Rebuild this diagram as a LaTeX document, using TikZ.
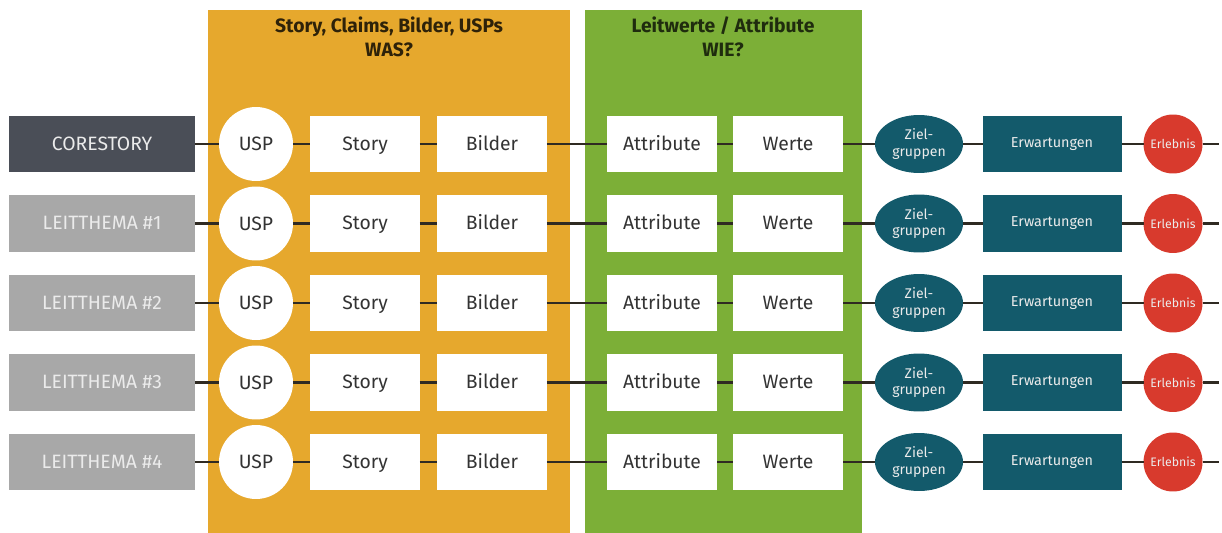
\documentclass[tikz,border=0pt]{standalone}
\usepackage{fontspec}
\setmainfont{Fira Sans}
\usepackage{xcolor}
\usetikzlibrary{shapes.geometric,positioning}
\definecolor{wasorange}{HTML}{E6A82D}
\definecolor{wiegruen}{HTML}{7CAF37}
\definecolor{coregrau}{HTML}{4A4E57}
\definecolor{themagrau}{HTML}{A8A8A8}
\definecolor{petrol}{HTML}{135A6B}
\definecolor{erlebnisrot}{HTML}{D83A2D}
\definecolor{kettenfarbe}{HTML}{2F2A22}
\newcommand{\mf}{\fontsize{11}{13}\selectfont}
\newcommand{\mfs}{\fontsize{8.2}{10}\selectfont}
\newcommand{\mfz}{\fontsize{8}{9.5}\selectfont}
\newcommand{\mfe}{\fontsize{7}{8}\selectfont}
\newcommand{\hf}{\fontsize{11}{13.5}\selectfont\bfseries}

\begin{document}
\begin{tikzpicture}[x=0.02cm, y=-0.02cm, every node/.style={inner sep=0pt, outer sep=0pt, font=\mf},
  thema/.style={rectangle, minimum width=3.72cm, minimum height=1.14cm, text=white!92!black,
    text height=1.6ex, text depth=0.3ex},
  karte/.style={rectangle, fill=white, minimum width=2.2cm, minimum height=1.14cm, text=black!80,
    text height=1.6ex, text depth=0.3ex},
  uspkreis/.style={circle, fill=white, minimum size=1.48cm, text=black!80},
  zielgr/.style={ellipse, fill=petrol, minimum width=1.76cm, minimum height=1.16cm, text=white!92!black, align=center, font=\mfz},
  erwart/.style={rectangle, fill=petrol, minimum width=2.78cm, minimum height=1.14cm, text=white!92!black, font=\mfs},
  erlebnis/.style={circle, fill=erlebnisrot, minimum size=1.18cm, text=white!92!black, font=\mfe},
  kettenlinie/.style={draw=kettenfarbe, line width=1.2pt}]
\useasboundingbox (0,0) rectangle (1222,533);
% ---- panels WAS? / WIE?
\fill[wasorange] (208,10) rectangle (570,533);
\fill[wiegruen] (585,10) rectangle (862,533);
\node[font=\hf, text=black!80!wasorange, align=center] (wasKopf) at (389,37)
  {Story, Claims, Bilder, USPs\\WAS?};
\node[font=\hf, text=black!75!wiegruen, align=center] (wieKopf) at (723,37)
  {Leitwerte / Attribute\\WIE?};
% ---- one chain per row
\foreach \lbl/\farbe [count=\i from 0] in {CORESTORY/coregrau, LEITTHEMA \#1/themagrau,
    LEITTHEMA \#2/themagrau, LEITTHEMA \#3/themagrau, LEITTHEMA \#4/themagrau}{
  \pgfmathsetmacro{\ry}{144+79.5*\i}
  \node[thema, fill=\farbe] (t\i) at (102,\ry) {\lbl};
  \node[uspkreis] (u\i) at (256,\ry) {USP};
  \node[karte] (s\i) at (365,\ry) {Story};
  \node[karte] (b\i) at (492,\ry) {Bilder};
  \node[karte] (a\i) at (662,\ry) {Attribute};
  \node[karte] (w\i) at (788,\ry) {Werte};
  \node[zielgr] (z\i) at (919,\ry) {Ziel-\\gruppen};
  \node[erwart] (e\i) at (1052,\ry) {Erwartungen};
  \node[erlebnis] (r\i) at (1173,\ry) {Erlebnis};
  \coordinate (ende\i) at (1219,\ry);
  \draw[kettenlinie] (t\i) -- (u\i) (u\i) -- (s\i) (s\i) -- (b\i) (b\i) -- (a\i)
    (a\i) -- (w\i) (w\i) -- (z\i) (z\i) -- (e\i) (e\i) -- (r\i) (r\i) -- (ende\i);
}
\end{tikzpicture}
\end{document}
